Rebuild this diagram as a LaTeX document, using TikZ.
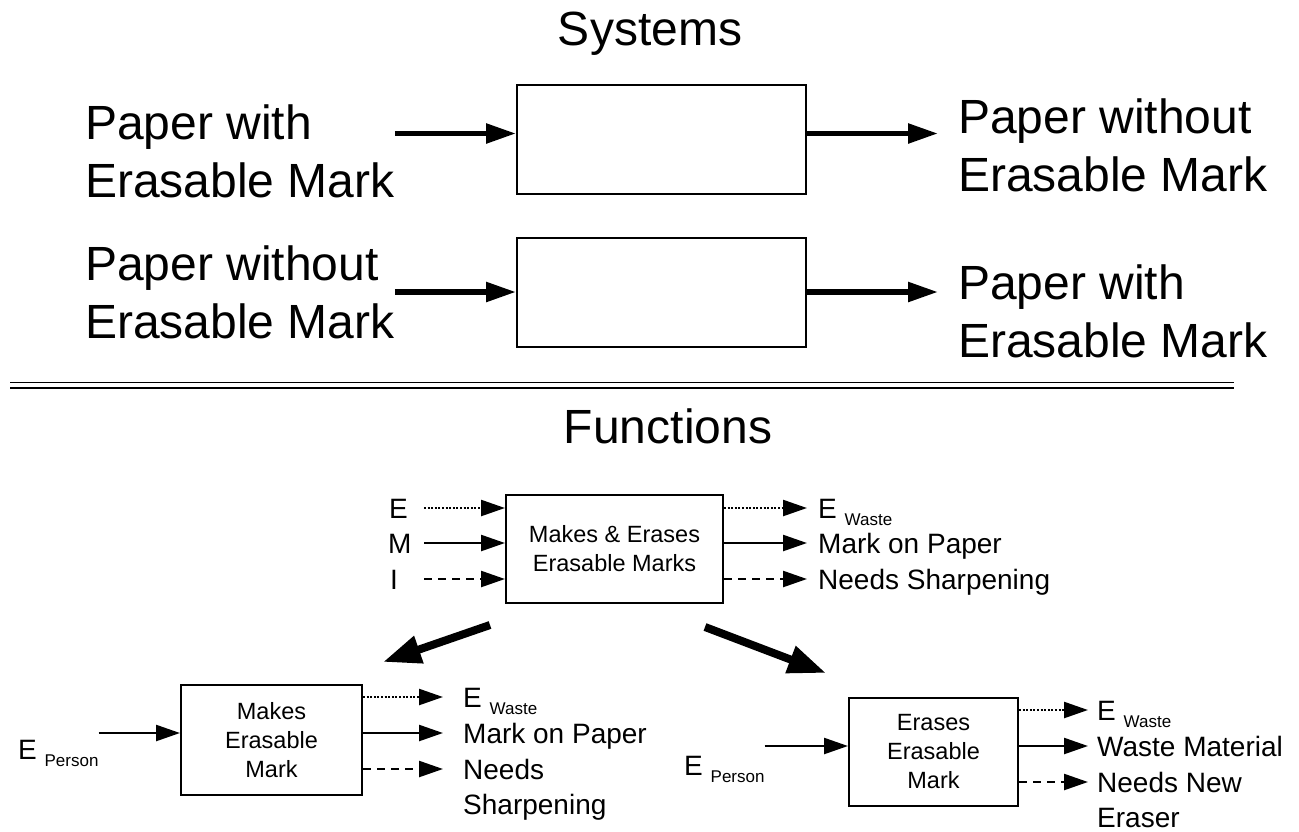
\documentclass[tikz,border=0pt]{standalone}
\usepackage{fontspec}
\setmainfont{Liberation Sans}
\usetikzlibrary{arrows.meta,positioning}

% small lowered index after a label
\newcommand{\lowsub}[1]{\raisebox{-7pt}{\fontsize{17}{17}\selectfont #1}}

\tikzset{
    sysbox/.style={draw, line width=2pt, minimum width=289pt, minimum height=109pt},
    fnbox/.style={draw, line width=2pt, align=center, font=\fontsize{23.5}{29}\selectfont},
    bigtext/.style={font=\fontsize{48}{58}\selectfont, align=left, inner sep=0pt},
    lbl/.style={font=\fontsize{28}{33}\selectfont, inner sep=0pt, anchor=west, text height=20pt, text depth=0pt},
    sysflow/.style={line width=5.5pt, -{Triangle[length=30pt,width=19pt]}},
    flow/.style={line width=2.4pt, -{Triangle[length=24pt,width=16pt]}},
    dotflow/.style={flow, dash pattern=on 2pt off 1.6pt},
    dashflow/.style={flow, dash pattern=on 8pt off 6pt},
    bigflow/.style={line width=8pt, -{Triangle[length=38pt,width=27pt]}},
}

\begin{document}
\begin{tikzpicture}[x=1pt, y=-1pt]
    \useasboundingbox (0,0) rectangle (1299,831);

    % systems
    \node (sysTitle) [bigtext] at (650,34) {Systems};
    \node (sysA) [sysbox] at (661.5,139.5) {};
    \node (sysB) [sysbox] at (661.5,292) {};
    \node (inTxtA) [bigtext, anchor=west] at (85,151) {Paper with\\Erasable Mark};
    \node (outTxtA) [bigtext, anchor=west] at (958,145) {Paper without\\Erasable Mark};
    \node (inTxtB) [bigtext, anchor=west] at (85,292) {Paper without\\Erasable Mark};
    \node (outTxtB) [bigtext, anchor=west] at (958,311) {Paper with\\Erasable Mark};
    \coordinate (sysAin) at ([yshift=6pt]sysA.west);
    \coordinate (sysAout) at ([yshift=6pt]sysA.east);
    \draw[sysflow] (inTxtA.east |- sysAin) -- (sysAin);
    \draw[sysflow, shorten >=20pt] (sysAout) -- (outTxtA.west |- sysAout);
    \draw[sysflow] (inTxtB.east |- sysB.west) -- (sysB.west);
    \draw[sysflow, shorten >=20pt] (sysB.east) -- (outTxtB.west |- sysB.east);

    % separator
    \coordinate (ruleL) at (10,385);
    \coordinate (ruleR) at (1234,385);
    \draw[line width=1.8pt, double, double distance=3.4pt] (ruleL) -- (ruleR);

    % functions
    \node (fnTitle) [bigtext] at (668,426) {Functions};
    \node (fnAll) [fnbox, minimum width=217pt, minimum height=108pt] at (614.5,549) {Makes \& Erases\\Erasable Marks};
    \node (inE) [lbl] at (389,508) {E};
    \node (inM) [lbl] at (388,543) {M};
    \node (inI) [lbl] at (390,579) {I};
    \draw[dotflow] ([xshift=35pt]inE.west) -- (inE -| fnAll.west);
    \draw[flow] ([xshift=36pt]inM.west) -- (inM -| fnAll.west);
    \draw[dashflow] ([xshift=34pt]inI.west) -- (inI -| fnAll.west);
    \node (wasteA) [lbl] at (818,508) {E \lowsub{Waste}};
    \node (markA) [lbl] at (818,543) {Mark on Paper};
    \node (sharpA) [lbl] at (818,579) {Needs Sharpening};
    \draw[dotflow, shorten >=11pt] (wasteA -| fnAll.east) -- (wasteA.west);
    \draw[flow, shorten >=11pt] (markA -| fnAll.east) -- (markA.west);
    \draw[dashflow, shorten >=11pt] (sharpA -| fnAll.east) -- (sharpA.west);

    \coordinate (toMakeA) at (490,625);
    \coordinate (toMakeB) at (383,662);
    \coordinate (toEraseA) at (705,627);
    \coordinate (toEraseB) at (826,673);
    \draw[bigflow] (toMakeA) -- (toMakeB);
    \draw[bigflow] (toEraseA) -- (toEraseB);

    % making a mark
    \node (fnMake) [fnbox, minimum width=181pt, minimum height=110pt] at (271.5,740) {Makes\\Erasable\\Mark};
    \node (persB) [lbl] at (18,749) {E \lowsub{Person}};
    \coordinate (fnMakeIn) at ([yshift=7pt]fnMake.west);
    \draw[flow] (persB.east |- fnMakeIn) -- (fnMakeIn);
    \node (wasteB) [lbl] at (463,697) {E \lowsub{Waste}};
    \node (markB) [lbl] at (463,733) {Mark on Paper};
    \node (needB) [lbl] at (463,769) {Needs};
    \node (needB2) [lbl, below=35pt of needB.west, anchor=west] {Sharpening};
    \draw[dotflow, shorten >=20pt] (wasteB -| fnMake.east) -- (wasteB.west);
    \draw[flow, shorten >=20pt] (markB -| fnMake.east) -- (markB.west);
    \draw[dashflow, shorten >=20pt] (needB -| fnMake.east) -- (needB.west);

    % erasing a mark
    \node (fnErase) [fnbox, minimum width=169pt, minimum height=108pt] at (933.5,752) {Erases\\Erasable\\Mark};
    \node (persC) [lbl] at (684,765) {E \lowsub{Person}};
    \coordinate (fnEraseIn) at ([yshift=6pt]fnErase.west);
    \draw[flow] (persC.east |- fnEraseIn) -- (fnEraseIn);
    \node (wasteC) [lbl] at (1097,710) {E \lowsub{Waste}};
    \node (matC) [lbl] at (1097,746) {Waste Material};
    \node (needC) [lbl] at (1097,782) {Needs New};
    \node (needC2) [lbl, below=35pt of needC.west, anchor=west] {Eraser};
    \draw[dotflow, shorten >=9pt] (wasteC -| fnErase.east) -- (wasteC.west);
    \draw[flow, shorten >=9pt] (matC -| fnErase.east) -- (matC.west);
    \draw[dashflow, shorten >=9pt] (needC -| fnErase.east) -- (needC.west);
\end{tikzpicture}
\end{document}
